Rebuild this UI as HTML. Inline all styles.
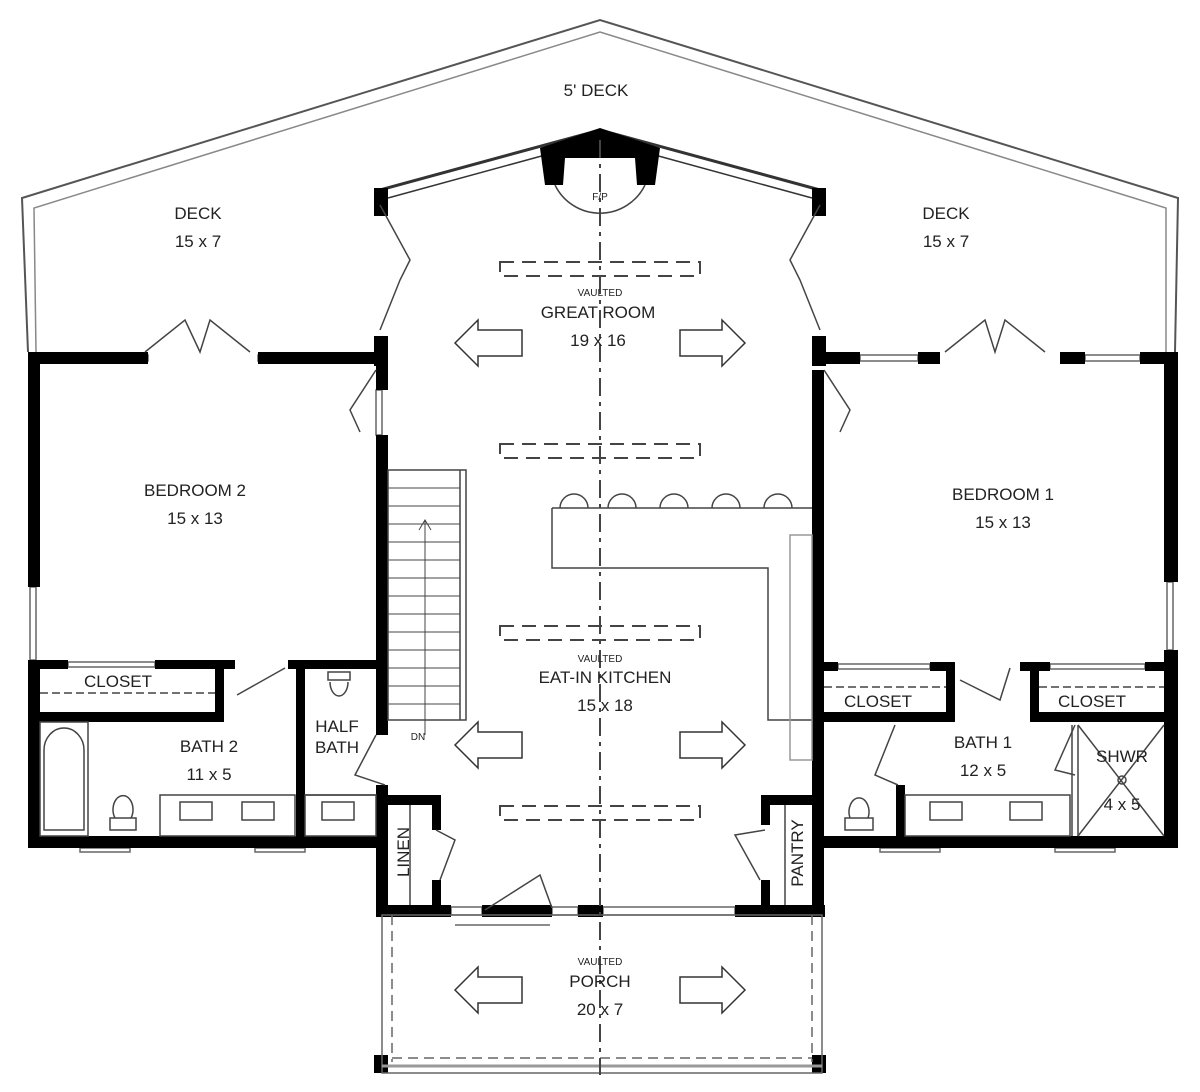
<!DOCTYPE html>
<html><head><meta charset="utf-8"><style>
html,body{margin:0;padding:0;background:#fff;}
svg{display:block;}
text{font-family:"Liberation Sans",sans-serif;fill:#222;text-anchor:middle;}
</style></head><body>
<svg width="1200" height="1092" viewBox="0 0 1200 1092" xmlns="http://www.w3.org/2000/svg">
<g fill="none" stroke="#555" stroke-width="2">
<polyline points="28,352 22,198 600,20 1178,198 1175,352"/>
<polyline points="36,352 34,208 600,32 1166,208 1166,352" stroke="#888" stroke-width="1.5"/>
</g>
<g fill="none" stroke="#333" stroke-width="3">
<polyline points="380,190 600,130 820,190"/>
<polyline points="388,198 600,140 812,198" stroke-width="1.5"/>
</g>
<!-- window fills -->
<g fill="#fff" stroke="#666" stroke-width="1.5">
<rect x="40" y="355" width="108" height="6"/><rect x="258" y="355" width="118" height="6"/>
<rect x="860" y="355" width="58" height="6"/><rect x="1085" y="355" width="55" height="6"/>
<rect x="30" y="587" width="6" height="73"/><rect x="1167" y="582" width="6" height="68"/>
<rect x="376" y="390" width="6" height="45"/>
<rect x="68" y="662" width="87" height="5"/><rect x="838" y="664" width="92" height="5"/><rect x="1050" y="664" width="95" height="5"/>
<rect x="80" y="848" width="50" height="4"/><rect x="255" y="848" width="50" height="4"/>
<rect x="880" y="848" width="60" height="4"/><rect x="1055" y="848" width="60" height="4"/>
<rect x="451" y="907" width="31" height="8"/><rect x="552" y="907" width="26" height="8"/><rect x="603" y="907" width="132" height="8"/>
</g>
<g fill="#000">
<rect x="374" y="188" width="14" height="28"/><rect x="374" y="336" width="14" height="30"/>
<rect x="812" y="188" width="14" height="28"/><rect x="812" y="336" width="14" height="30"/>
<polygon points="540,148 600,128 660,148 655,185 637,185 635,158 565,158 563,185 545,185"/>
<rect x="28" y="352" width="120" height="12"/><rect x="258" y="352" width="124" height="12"/>
<rect x="28" y="352" width="12" height="235"/><rect x="28" y="660" width="12" height="188"/>
<rect x="28" y="836" width="360" height="12"/>
<rect x="376" y="360" width="12" height="30"/><rect x="376" y="435" width="12" height="300"/>
<rect x="376" y="785" width="12" height="130"/>
<rect x="28" y="660" width="40" height="9"/><rect x="155" y="660" width="80" height="9"/>
<rect x="288" y="660" width="95" height="9"/>
<rect x="28" y="712" width="195" height="10"/><rect x="215" y="668" width="9" height="54"/>
<rect x="296" y="665" width="9" height="180"/>
<rect x="376" y="795" width="65" height="10"/><rect x="432" y="795" width="9" height="35"/><rect x="432" y="880" width="9" height="30"/>
<rect x="376" y="905" width="75" height="12"/>
<rect x="482" y="905" width="70" height="12"/><rect x="578" y="905" width="25" height="12"/><rect x="735" y="905" width="90" height="12"/>
<rect x="818" y="352" width="42" height="12"/><rect x="918" y="352" width="22" height="12"/><rect x="1060" y="352" width="25" height="12"/><rect x="1140" y="352" width="38" height="12"/>
<rect x="1164" y="352" width="14" height="230"/><rect x="1164" y="650" width="14" height="198"/>
<rect x="812" y="370" width="12" height="545"/>
<rect x="818" y="836" width="360" height="12"/>
<rect x="818" y="662" width="20" height="9"/><rect x="930" y="662" width="25" height="9"/><rect x="1020" y="662" width="30" height="9"/><rect x="1145" y="662" width="25" height="9"/>
<rect x="818" y="712" width="137" height="10"/><rect x="946" y="662" width="9" height="60"/>
<rect x="1030" y="712" width="140" height="10"/><rect x="1030" y="662" width="9" height="60"/>
<rect x="896" y="785" width="9" height="55"/>
<rect x="761" y="795" width="60" height="10"/><rect x="761" y="795" width="9" height="30"/><rect x="761" y="880" width="9" height="30"/>
<rect x="374" y="1055" width="14" height="18"/><rect x="812" y="1055" width="14" height="18"/>
</g>
<g fill="none" stroke="#666" stroke-width="1.5">
<rect x="382" y="915" width="440" height="158"/>
<line x1="392" y1="915" x2="392" y2="1062" stroke-dasharray="10,6"/>
<line x1="812" y1="915" x2="812" y2="1062" stroke-dasharray="10,6"/>
<line x1="392" y1="1058" x2="812" y2="1058" stroke-dasharray="10,6"/>
<line x1="382" y1="1066" x2="822" y2="1066" stroke="#999" stroke-width="3"/>
<line x1="455" y1="925" x2="550" y2="925"/>
</g>
<g fill="none" stroke="#444" stroke-width="2">
<line x1="600" y1="140" x2="600" y2="1075" stroke-dasharray="18,6,4,6"/>
<path d="M555,185 A50,50 0 0 0 645,185" stroke-width="1.5"/>
<g stroke-dasharray="14,8">
<rect x="500" y="262" width="200" height="14"/><rect x="500" y="444" width="200" height="14"/>
<rect x="500" y="626" width="200" height="14"/><rect x="500" y="806" width="200" height="14"/>
</g>
</g>
<g fill="#fff" stroke="#333" stroke-width="1.5">
<polygon points="455,343 478,320 478,330 522,330 522,356 478,356 478,366"/>
<polygon points="745,343 722,320 722,330 680,330 680,356 722,356 722,366"/>
<polygon points="455,745 478,722 478,732 522,732 522,758 478,758 478,768"/>
<polygon points="745,745 722,722 722,732 680,732 680,758 722,758 722,768"/>
<polygon points="455,990 478,967 478,977 522,977 522,1003 478,1003 478,1013"/>
<polygon points="745,990 722,967 722,977 680,977 680,1003 722,1003 722,1013"/>
</g>
<g fill="none" stroke="#444" stroke-width="1.5">
<rect x="388" y="470" width="78" height="250"/>
<line x1="460" y1="470" x2="460" y2="720"/>
<g stroke-width="1">
<line x1="388" y1="488" x2="460" y2="488"/><line x1="388" y1="506" x2="460" y2="506"/><line x1="388" y1="524" x2="460" y2="524"/>
<line x1="388" y1="542" x2="460" y2="542"/><line x1="388" y1="560" x2="460" y2="560"/><line x1="388" y1="578" x2="460" y2="578"/>
<line x1="388" y1="596" x2="460" y2="596"/><line x1="388" y1="614" x2="460" y2="614"/><line x1="388" y1="632" x2="460" y2="632"/>
<line x1="388" y1="650" x2="460" y2="650"/><line x1="388" y1="668" x2="460" y2="668"/><line x1="388" y1="686" x2="460" y2="686"/>
<line x1="388" y1="704" x2="460" y2="704"/>
<line x1="425" y1="520" x2="425" y2="735"/><polyline points="419,530 425,520 431,530"/>
</g>
<polyline points="552,508 812,508"/><polyline points="552,508 552,568 768,568 768,720 812,720"/>
<rect x="790" y="535" width="22" height="225" stroke="#999"/>
<path d="M560,508 a14,14 0 0 1 28,0 M608,508 a14,14 0 0 1 28,0 M660,508 a14,14 0 0 1 28,0 M712,508 a14,14 0 0 1 28,0 M764,508 a14,14 0 0 1 28,0"/>
<polyline points="380,205 410,260 400,280 380,330"/>
<polyline points="820,205 790,260 800,280 820,330"/>
<polyline points="145,352 185,320 200,352 210,320 250,352"/>
<polyline points="945,352 985,320 995,352 1005,320 1045,352"/>
<polyline points="376,370 350,410 360,432"/>
<polyline points="824,370 850,410 840,432"/>
<polyline points="237,695 285,668"/><polyline points="1010,668 1000,700 960,680"/>
<polyline points="376,735 355,775 385,785"/>
<polyline points="436,830 455,840 440,880"/>
<polyline points="765,830 735,835 760,880"/>
<polyline points="485,910 540,875 552,908"/>
<polyline points="895,725 875,775 898,785"/>
<polyline points="1075,725 1055,770 1075,775"/>
<polyline points="1072,725 1072,836"/><polyline points="1078,725 1078,836"/>
<polyline points="1078,725 1164,836"/><polyline points="1164,725 1078,836"/>
<circle cx="1122" cy="780" r="4"/>
<line x1="40" y1="693" x2="215" y2="693" stroke-dasharray="8,4"/>
<line x1="824" y1="687" x2="946" y2="687" stroke-dasharray="8,4"/>
<line x1="1039" y1="687" x2="1164" y2="687" stroke-dasharray="8,4"/>
<rect x="40" y="722" width="48" height="114"/><path d="M44,830 V750 a20,22 0 0 1 40,0 V830 Z"/>
<rect x="160" y="795" width="135" height="41"/><rect x="305" y="795" width="71" height="41"/>
<path d="M180,802 h32 v18 h-32 z M242,802 h32 v18 h-32 z M322,802 h32 v18 h-32 z"/>
<path d="M110,830 h26 v-12 h-26 z M115,818 a10,14 0 1 1 16,0"/>
<path d="M328,672 h22 v8 h-22 z M330,682 a9,14 0 1 0 18,0"/>
<line x1="305" y1="795" x2="376" y2="795"/>
<path d="M845,830 h28 v-12 h-28 z M850,818 a10,14 0 1 1 18,0"/>
<rect x="905" y="795" width="165" height="41"/>
<path d="M930,802 h32 v18 h-32 z M1010,802 h32 v18 h-32 z"/>
<line x1="410" y1="805" x2="410" y2="905"/><line x1="785" y1="805" x2="785" y2="905"/>
</g>
<g font-size="17">
<text x="596" y="96">5' DECK</text>
<text x="198" y="219">DECK</text><text x="198" y="247">15 x 7</text>
<text x="946" y="219">DECK</text><text x="946" y="247">15 x 7</text>
<text x="598" y="318">GREAT ROOM</text><text x="598" y="346">19 x 16</text>
<text x="195" y="496">BEDROOM 2</text><text x="195" y="524">15 x 13</text>
<text x="1003" y="500">BEDROOM 1</text><text x="1003" y="528">15 x 13</text>
<text x="605" y="683">EAT-IN KITCHEN</text><text x="605" y="711">15 x 18</text>
<text x="600" y="987">PORCH</text><text x="600" y="1015">20 x 7</text>
<text x="118" y="687">CLOSET</text>
<text x="878" y="707">CLOSET</text><text x="1092" y="707">CLOSET</text>
<text x="209" y="752">BATH 2</text><text x="209" y="780">11 x 5</text>
<text x="337" y="732">HALF</text><text x="337" y="753">BATH</text>
<text x="983" y="748">BATH 1</text><text x="983" y="776">12 x 5</text>
<text x="1122" y="762">SHWR</text><text x="1122" y="810">4 x 5</text>
<text x="0" y="0" transform="translate(409,852) rotate(-90)">LINEN</text>
<text x="0" y="0" transform="translate(803,853) rotate(-90)">PANTRY</text>
</g>
<g font-size="10">
<text x="600" y="296">VAULTED</text><text x="600" y="662">VAULTED</text><text x="600" y="965">VAULTED</text>
<text x="600" y="200">F/P</text><text x="418" y="740">DN</text>
</g>
</svg>
</body></html>
